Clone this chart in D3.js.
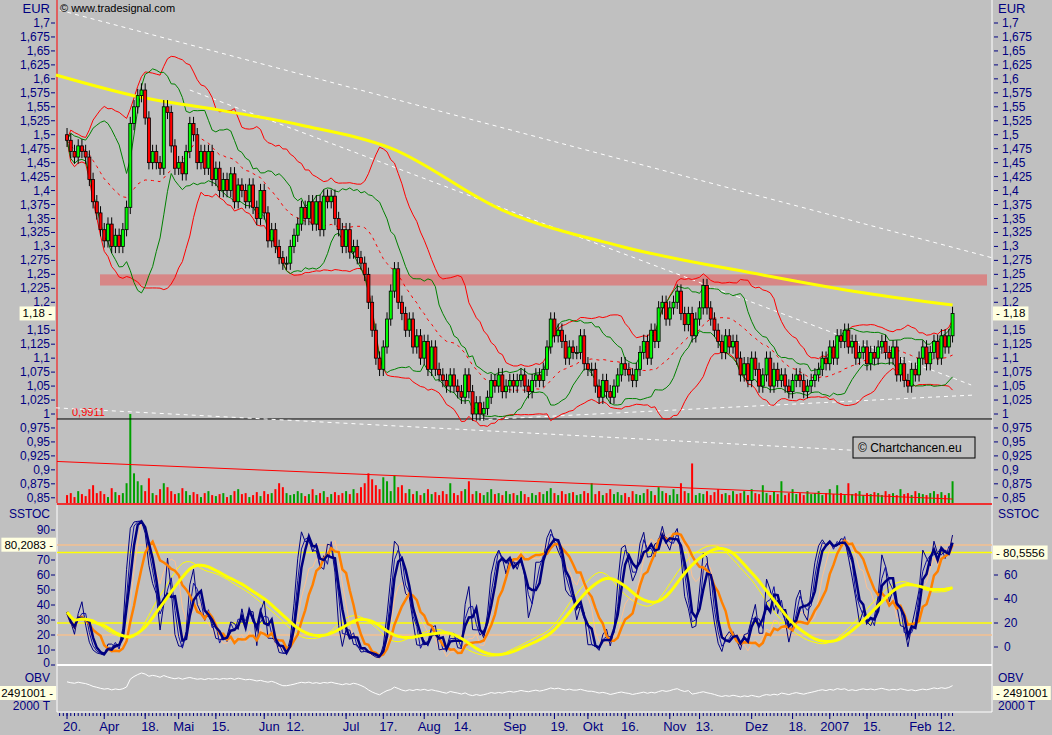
<!DOCTYPE html>
<html><head><meta charset="utf-8">
<script src="https://cdn.jsdelivr.net/npm/d3@7/dist/d3.min.js"></script>
<style>body{margin:0;background:#c0c0c0}svg{display:block;font-family:Arial,"Liberation Sans",sans-serif}</style>
</head><body>
<script>
// ---- DATA ----
const closes = [
1.49,1.47,1.46,1.48,1.47,1.46,1.42,1.38,1.36,1.33,1.31,1.34,1.30,1.32,1.30,1.33,1.37,1.52,1.55,1.57,
1.58,1.53,1.45,1.47,1.45,1.44,1.55,1.54,1.48,1.44,1.45,1.43,1.47,1.52,1.50,1.45,1.47,1.44,1.47,1.42,
1.44,1.40,1.42,1.40,1.43,1.38,1.41,1.40,1.38,1.41,1.37,1.35,1.40,1.36,1.31,1.33,1.30,1.28,1.27,1.27,
1.30,1.32,1.34,1.37,1.35,1.38,1.34,1.38,1.33,1.39,1.38,1.39,1.35,1.33,1.30,1.33,1.29,1.30,1.28,1.27,
1.25,1.20,1.15,1.10,1.08,1.12,1.17,1.22,1.26,1.20,1.18,1.15,1.17,1.12,1.14,1.10,1.13,1.08,1.12,1.08,
1.07,1.06,1.05,1.07,1.05,1.04,1.03,1.07,1.04,1.00,1.02,1.00,1.01,1.03,1.06,1.05,1.07,1.04,1.05,1.06,
1.05,1.06,1.07,1.05,1.04,1.06,1.07,1.06,1.08,1.12,1.17,1.14,1.15,1.13,1.10,1.12,1.11,1.11,1.14,1.09,
1.08,1.08,1.05,1.03,1.06,1.04,1.03,1.05,1.07,1.09,1.08,1.07,1.06,1.08,1.11,1.13,1.10,1.15,1.13,1.19,
1.20,1.17,1.19,1.20,1.22,1.18,1.16,1.18,1.14,1.17,1.19,1.23,1.19,1.17,1.15,1.13,1.11,1.14,1.12,1.13,
1.10,1.07,1.09,1.06,1.10,1.08,1.05,1.07,1.10,1.05,1.08,1.06,1.07,1.05,1.04,1.06,1.07,1.06,1.04,1.05,
1.06,1.07,1.08,1.10,1.09,1.12,1.10,1.14,1.13,1.15,1.12,1.13,1.10,1.11,1.12,1.09,1.11,1.10,1.12,1.13,
1.11,1.10,1.12,1.07,1.09,1.06,1.05,1.08,1.07,1.10,1.12,1.09,1.11,1.13,1.10,1.14,1.12,1.14,1.18];
const volumes = [
8,10,6,12,9,7,14,18,10,12,9,6,15,11,8,10,20,90,30,22,
18,12,25,10,8,14,20,16,12,9,10,15,12,8,11,9,6,10,12,8,
7,9,10,6,8,12,14,9,10,6,8,11,7,12,9,10,14,20,16,10,
8,9,12,10,7,9,14,8,10,12,6,9,11,8,10,12,9,14,10,16,
20,30,24,18,14,26,22,12,28,16,18,10,14,9,12,8,10,14,9,11,
8,12,9,20,10,8,12,14,22,9,12,10,8,11,14,9,10,8,12,9,
10,8,12,9,6,10,8,11,9,12,15,10,8,12,9,10,11,8,9,12,
10,20,9,12,8,10,14,9,11,8,10,6,12,9,8,10,14,12,8,16,
12,10,8,14,9,20,12,10,40,8,10,9,12,8,11,14,9,10,8,12,
9,10,12,8,14,10,9,18,10,8,12,9,22,8,10,14,9,10,8,12,
9,10,12,8,10,14,9,18,10,8,20,9,10,12,8,10,9,11,10,8,
12,9,10,8,14,9,10,8,12,10,9,8,10,12,9,11,8,10,22];
const ma200 = [[-3,1.607],[20,1.567],[41,1.544],[63,1.517],[87,1.476],[117,1.365],[149,1.30],[187,1.249],[214,1.217],[238,1.195]];
const trendLines = [[[-2,1.723],[249,1.279]],[[33,1.58],[243,1.052]],[[109,0.989],[244,1.034]],[[-3,1.011],[220,0.932]]];
const priceTicks = [1.7,1.675,1.65,1.625,1.6,1.575,1.55,1.525,1.5,1.475,1.45,1.425,1.4,1.375,1.35,1.325,1.3,1.275,1.25,1.225,1.2,1.15,1.125,1.1,1.075,1.05,1.025,1,0.975,0.95,0.925,0.9,0.875,0.85];
const stocTicksL = [0,10,20,30,40,50,60,70,90];
const stocTicksR = [0,20,40,60];
const dateTicks = [["20.","2006-03-20"],["Apr","2006-04-03"],["18.","2006-04-18"],["Mai","2006-05-01"],["15.","2006-05-15"],["Jun","2006-06-01"],["12.","2006-06-12"],["Jul","2006-07-03"],["17.","2006-07-17"],["Aug","2006-08-01"],["14.","2006-08-14"],["Sep","2006-09-01"],["19.","2006-09-19"],["Okt","2006-10-02"],["16.","2006-10-16"],["Nov","2006-11-01"],["13.","2006-11-13"],["Dez","2006-12-01"],["18.","2006-12-18"],["2007","2007-01-01"],["15.","2007-01-15"],["Feb","2007-02-01"],["12.","2007-02-12"]];

// ---- derived ----
const N = closes.length;
const bars = closes.map((c,i)=>{const o=i?closes[i-1]:c+0.01;return {i,o,c,h:Math.max(o,c)+0.012,l:Math.min(o,c)-0.012,v:volumes[i]};});
const start = new Date(2006,2,20);
function idxOf(s){const d=new Date(s+"T00:00:00");let n=0;const t=new Date(start);while(t<d){t.setDate(t.getDate()+1);const w=t.getDay();if(w>0&&w<6)n++;}return n;}
const sma=(a,n)=>a.map((_,i)=>{const s=a.slice(Math.max(0,i-n+1),i+1);return d3.mean(s);});
const sd=(a,n)=>a.map((_,i)=>d3.deviation(a.slice(Math.max(0,i-n+1),i+1))||0);
const m20=sma(closes,20), s20=sd(closes,20), m10=sma(closes,12), s10=sd(closes,12);
const stochK=n=>bars.map((b,i)=>{const w=bars.slice(Math.max(0,i-n+1),i+1);const hh=d3.max(w,d=>d.h),ll=d3.min(w,d=>d.l);return (b.c-ll)/(hh-ll)*100;});
const k8=stochK(8), k14=stochK(14), k40=stochK(40);
const blue1=sma(k8,2), blue2=sma(k8,3), blue3=sma(k8,4);
const or1=sma(k14,4), or2=sma(k14,7);
const ye1=sma(sma(k40,14),6), ye2=sma(sma(k40,16),8);
let ob=0; const obv=bars.map((b,i)=>{if(i)ob+= b.c>closes[i-1]?b.v:(b.c<closes[i-1]?-b.v:0);return ob;});

// ---- drawing ----
const W=1052,H=735;
const svg=d3.select("body").append("svg").attr("width",W).attr("height",H);
svg.append("rect").attr("width",W).attr("height",H).attr("fill","#c0c0c0");
const x=d3.scaleLinear().domain([-2.7,248.6]).range([57,992]);
const y=d3.scaleLinear().domain([1.0,1.7]).range([414,23]);
const yv=d3.scaleLinear().domain([0,90]).range([503,414]);
const ys=d3.scaleLinear().domain([0,90]).range([665,530]);
const ysR=d3.scaleLinear().domain([0,60]).range([647,575]);
const ext=d3.extent(obv); const yo=d3.scaleLinear().domain(ext).range([697,673]);
const navy="#000080";

svg.append("line").attr("x1",57).attr("x2",57).attr("y1",0).attr("y2",503).attr("stroke","#ff0000");
svg.append("line").attr("x1",992).attr("x2",992).attr("y1",0).attr("y2",712).attr("stroke","#fff");
svg.append("line").attr("x1",57).attr("x2",992).attr("y1",504).attr("y2",504).attr("stroke","#ff0000").attr("stroke-width",1.5);
svg.append("line").attr("x1",57).attr("x2",992).attr("y1",665).attr("y2",665).attr("stroke","#fff").attr("stroke-width",2);
svg.append("line").attr("x1",57).attr("x2",992).attr("y1",712).attr("y2",712).attr("stroke","#fff");
svg.append("line").attr("x1",57).attr("x2",57).attr("y1",505).attr("y2",712).attr("stroke","#fff");

svg.append("g").selectAll("rect").data(bars).join("rect")
 .attr("x",d=>x(d.i)-1).attr("width",2).attr("y",d=>yv(d.v)).attr("height",d=>503-yv(d.v))
 .attr("fill",d=>d.c>=d.o?"#00a000":"#ff0000");
svg.append("line").attr("x1",x(-2.7)).attr("y1",yv(42)).attr("x2",x(238)).attr("y2",yv(4)).attr("stroke","#ff0000");

svg.append("rect").attr("x",100).attr("width",887).attr("y",y(1.25)).attr("height",y(1.23)-y(1.25)).attr("fill","#d98080").attr("opacity",0.9);
svg.append("line").attr("x1",57).attr("x2",992).attr("y1",y(0.9911)).attr("y2",y(0.9911)).attr("stroke","#000");
svg.append("text").attr("x",72).attr("y",y(0.9911)-3).attr("fill","#ff0000").attr("font-size",11).text("0,9911");

trendLines.forEach(t=>svg.append("line").attr("x1",x(t[0][0])).attr("y1",y(t[0][1])).attr("x2",x(t[1][0])).attr("y2",y(t[1][1])).attr("stroke","#fff").attr("stroke-dasharray","4,4"));

const line=(arr,ys_)=>d3.line().x((d,i)=>x(i)).y(d=>ys_(d))(arr);
svg.append("path").attr("d",line(m20.map((m,i)=>m+2*s20[i]),y)).attr("fill","none").attr("stroke","#ff0000");
svg.append("path").attr("d",line(m20.map((m,i)=>m-2*s20[i]),y)).attr("fill","none").attr("stroke","#ff0000");
svg.append("path").attr("d",line(m20,y)).attr("fill","none").attr("stroke","#ff0000").attr("stroke-dasharray","3,4");
svg.append("path").attr("d",line(m10.map((m,i)=>m+1.6*s10[i]),y)).attr("fill","none").attr("stroke","#008000");
svg.append("path").attr("d",line(m10.map((m,i)=>m-1.6*s10[i]),y)).attr("fill","none").attr("stroke","#008000");
svg.append("path").attr("d",d3.line().x(d=>x(d[0])).y(d=>y(d[1])).curve(d3.curveMonotoneX)(ma200)).attr("fill","none").attr("stroke","#ffff00").attr("stroke-width",3);

const cg=svg.append("g");
cg.selectAll("line").data(bars).join("line").attr("x1",d=>x(d.i)).attr("x2",d=>x(d.i)).attr("y1",d=>y(d.h)).attr("y2",d=>y(d.l)).attr("stroke","#000");
cg.selectAll("rect").data(bars).join("rect").attr("x",d=>x(d.i)-1.5).attr("width",3)
 .attr("y",d=>y(Math.max(d.o,d.c))).attr("height",d=>Math.max(1,Math.abs(y(d.o)-y(d.c))))
 .attr("fill",d=>d.c>=d.o?"#00ff00":"#ff0000").attr("stroke","#000").attr("stroke-width",0.8);

const ag=svg.append("g").attr("font-size",12).attr("fill",navy);
priceTicks.forEach(v=>{const yy=y(v);const s=String(v).replace(".",",");
 ag.append("text").attr("x",50).attr("y",yy+4).attr("text-anchor","end").text(s);
 ag.append("line").attr("x1",51).attr("x2",55).attr("y1",yy).attr("y2",yy).attr("stroke",navy);
 ag.append("text").attr("x",1002).attr("y",yy+4).text(s);
 ag.append("line").attr("x1",994).attr("x2",998).attr("y1",yy).attr("y2",yy).attr("stroke",navy);
});
ag.append("text").attr("x",50).attr("y",13).attr("text-anchor","end").attr("font-size",13).text("EUR");
ag.append("text").attr("x",998).attr("y",13).attr("font-size",13).text("EUR");
svg.append("text").attr("x",60).attr("y",12).attr("font-size",11).attr("fill","#000").text("© www.tradesignal.com");

const tagLayer=svg.append("g");
function tag(xx,yy,txt,anchor){const g=tagLayer.append("g");const r=g.append("rect");
 const t=g.append("text").attr("x",xx).attr("y",yy+4).attr("font-size",11.5).attr("fill","#000").attr("text-anchor",anchor).text(txt);
 const b=t.node().getBBox();r.attr("x",b.x-3).attr("y",yy-7).attr("width",b.width+6).attr("height",14).attr("fill","#ffffe0");}
tag(52,y(1.18),"1,18 -","end"); tag(996,y(1.18),"- 1,18","start");

svg.append("rect").attr("x",853).attr("y",437).attr("width",122).attr("height",21).attr("fill","#c0c0c0").attr("stroke","#000");
svg.append("text").attr("x",858).attr("y",452).attr("font-size",12).attr("fill","#000").text("© Chartchancen.eu");

[[80,"#f5c090"],[20,"#f5c090"],[75,"#ffff00"],[28,"#ffff00"]].forEach(([v,c])=>svg.append("line").attr("x1",57).attr("x2",992).attr("y1",ys(v)).attr("y2",ys(v)).attr("stroke",c).attr("stroke-width",1.5));
const sline=(arr,c,w)=>svg.append("path").attr("d",line(arr,ys)).attr("fill","none").attr("stroke",c).attr("stroke-width",w);
sline(ye1,"#ffff00",1); sline(or1,"#ffc090",1); sline(blue1,"#000080",1); sline(blue2,"#1010a0",1);
sline(or2,"#ff8000",2.5); sline(blue3,"#000080",2.5); sline(ye2,"#ffff00",3);
const sg=svg.append("g").attr("font-size",12).attr("fill",navy);
stocTicksL.forEach(v=>{sg.append("text").attr("x",50).attr("y",ys(v)+(v===0?2:4)).attr("text-anchor","end").text(v);sg.append("line").attr("x1",51).attr("x2",55).attr("y1",ys(v)).attr("y2",ys(v)).attr("stroke",navy);});
stocTicksR.forEach(v=>{sg.append("text").attr("x",1004).attr("y",ysR(v)+4).text(v);sg.append("line").attr("x1",994).attr("x2",998).attr("y1",ysR(v)).attr("y2",ysR(v)).attr("stroke",navy);});
sg.append("text").attr("x",50).attr("y",518).attr("text-anchor","end").text("SSTOC");
sg.append("text").attr("x",998).attr("y",518).text("SSTOC");
tag(53,ys(80.2083),"80,2083 -","end"); tag(996,ys(75),"- 80,5556","start");

svg.append("path").attr("d",line(obv,yo)).attr("fill","none").attr("stroke","#fff");
sg.append("text").attr("x",50).attr("y",682).attr("text-anchor","end").text("OBV");
sg.append("text").attr("x",998).attr("y",682).text("OBV");
sg.append("text").attr("x",50).attr("y",710).attr("text-anchor","end").text("2000 T");
sg.append("text").attr("x",998).attr("y",710).text("2000 T");
tag(53,693,"2491001 -","end"); tag(996,693,"- 2491001","start");

const xg=svg.append("g");
d3.range(-2,N).forEach(i=>xg.append("line").attr("x1",x(i)).attr("x2",x(i)).attr("y1",713).attr("y2",716).attr("stroke",navy));
dateTicks.forEach(([lab,dt])=>{const i=idxOf(dt);xg.append("line").attr("x1",x(i)).attr("x2",x(i)).attr("y1",713).attr("y2",719).attr("stroke",navy);
 xg.append("text").attr("x",x(i)+5).attr("y",731).attr("text-anchor","middle").attr("font-size",13).attr("fill",navy).text(lab);});
</script>
</body></html>
